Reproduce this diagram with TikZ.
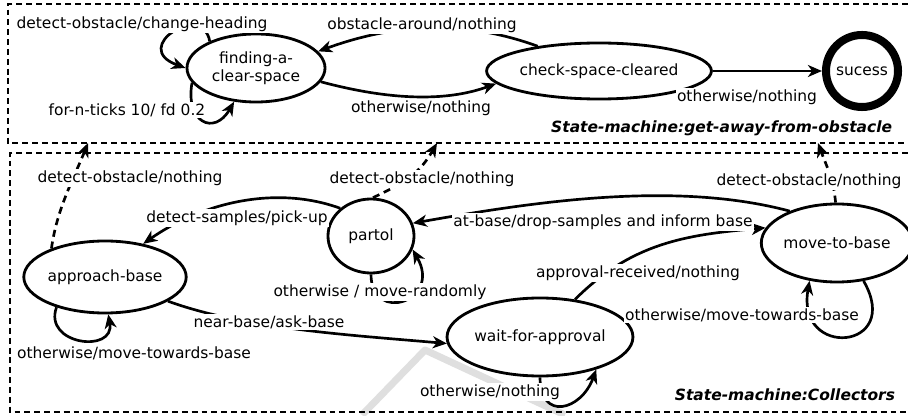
\documentclass[tikz,border=0pt]{standalone}
\usepackage{fontspec}
\setmainfont{DejaVu Sans}
\usetikzlibrary{shapes.geometric,arrows.meta}
\begin{document}
\begin{tikzpicture}[x=0.025cm,y=0.025cm,
  font=\fontsize{11}{13}\selectfont,
  state/.style={ellipse,draw,line width=2pt,fill=white,inner sep=0pt},
  trans/.style={line width=1.9pt,-{Stealth[length=10pt,width=8.5pt,inset=3pt]}},
  jump/.style={trans,dash pattern=on 5pt off 3.5pt},
  lbl/.style={fill=white,inner sep=1pt},
  frame/.style={line width=1.5pt,dash pattern=on 4.2pt off 2.8pt},
  title/.style={anchor=east,font=\fontsize{11}{13}\selectfont\bfseries\itshape}]
  \useasboundingbox (0,0) rectangle (908,415);
  % pen shadow
  \draw[gray!25,line width=5pt,line join=round] (362,0) -- (425,65) -- (565,0);
  % frames
  \draw[frame] (908,411) -| (8,272) -- (908,272);
  \draw[frame] (908,262) -| (10,3) -- (908,3);
  % get-away-from-obstacle
  \node[state,minimum width=3.45cm,minimum height=1.7cm,align=center] (clear) at (256,347) {finding-a-\\clear-space};
  \node[state,minimum width=4.85cm,minimum height=1.4cm] (check) at (599,344) {check-space-cleared};
  \node[circle,draw,line width=5.7pt,minimum size=1.8cm,inner sep=0pt] (sucess) at (862,344) {sucess};
  % collectors
  \node[state,minimum width=2.15cm,minimum height=1.85cm] (patrol) at (371,179) {partol};
  \node[state,minimum width=3.5cm,minimum height=1.8cm] (approach) at (105,138) {approach-base};
  \node[state,minimum width=4cm,minimum height=1.95cm] (wait) at (540,78) {wait-for-approval};
  \node[state,minimum width=3.25cm,minimum height=1.95cm] (move) at (837,172) {move-to-base};
  \coordinate (exitA) at (88,272);
  \coordinate (exitB) at (437,272);
  \coordinate (exitC) at (818,272);
  % transitions
  \draw[trans] (clear.150) .. controls +(100:1cm) and +(160:1.5cm) .. (clear.west);
  \draw[trans] (clear.193) .. controls +(260:1cm) and +(240:1cm) .. (clear.237);
  \draw[trans] (check.158) .. controls +(160:2cm) and +(20:2cm) .. (clear.15);
  \draw[trans] (clear.-12) .. controls +(-15:1.5cm) and +(200:1.5cm) .. (check.187);
  \draw[trans] (check) -- (sucess);
  \draw[jump] (approach.152) .. controls +(82:1cm) and +(248:1cm) .. (exitA);
  \draw[jump] (patrol.87) .. controls +(25:1cm) and +(240:0.8cm) .. (exitB);
  \draw[jump] (move.92) .. controls +(95:0.6cm) and +(290:0.6cm) .. (exitC);
  \draw[trans] (patrol.138) .. controls +(160:1.75cm) and +(35:1.75cm) .. (approach.41);
  \draw[trans] (move.146) .. controls +(165:3cm) and +(10:3cm) .. (patrol.17);
  \draw[trans] (patrol.270) .. controls +(270:1.25cm) and +(-60:1.5cm) .. (patrol.-18);
  \draw[trans] (approach.-21) .. controls +(-20:2cm) and +(175:2.5cm) .. (wait.184);
  \draw[trans] (approach.212) .. controls +(250:1cm) and +(280:1cm) .. (approach.275);
  \draw[trans] (wait.47) .. controls +(45:2cm) and +(185:2cm) .. (move.168);
  \draw[trans] (move.-55) .. controls +(-60:2cm) and +(260:2cm) .. (move.234);
  \draw[trans] (wait.270) .. controls +(270:1.1cm) and +(250:1.1cm) .. (wait.-30);
  % labels
  \node[lbl] (l1) at (142,391) {detect-obstacle/change-heading};
  \node[lbl] (l2) at (127,305) {for-n-ticks 10/ fd 0.2};
  \node[lbl] (l3) at (422,390) {obstacle-around/nothing};
  \node[lbl] (l4) at (421,307) {otherwise/nothing};
  \node[lbl] (l5) at (747,318) {otherwise/nothing};
  \node[title] (t1) at (897,287) {State-machine:get-away-from-obstacle};
  \node[lbl] (l6) at (130,237) {detect-obstacle/nothing};
  \node[lbl] (l7) at (422,236) {detect-obstacle/nothing};
  \node[lbl] (l8) at (809,234) {detect-obstacle/nothing};
  \node[lbl] (l9) at (237,197) {detect-samples/pick-up};
  \node[lbl] (l10) at (603,193) {at-base/drop-samples and inform base};
  \node[lbl] (l11) at (380,123) {otherwise / move-randomly};
  \node[lbl] (l12) at (269,93) {near-base/ask-base};
  \node[lbl] (l13) at (134,62) {otherwise/move-towards-base};
  \node[lbl] (l14) at (638,142) {approval-received/nothing};
  \node[lbl] (l15) at (742,100) {otherwise/move-towards-base};
  \node[lbl] (l16) at (490,23) {otherwise/nothing};
  \node[title] (t2) at (900,20) {State-machine:Collectors};
\end{tikzpicture}
\end{document}
